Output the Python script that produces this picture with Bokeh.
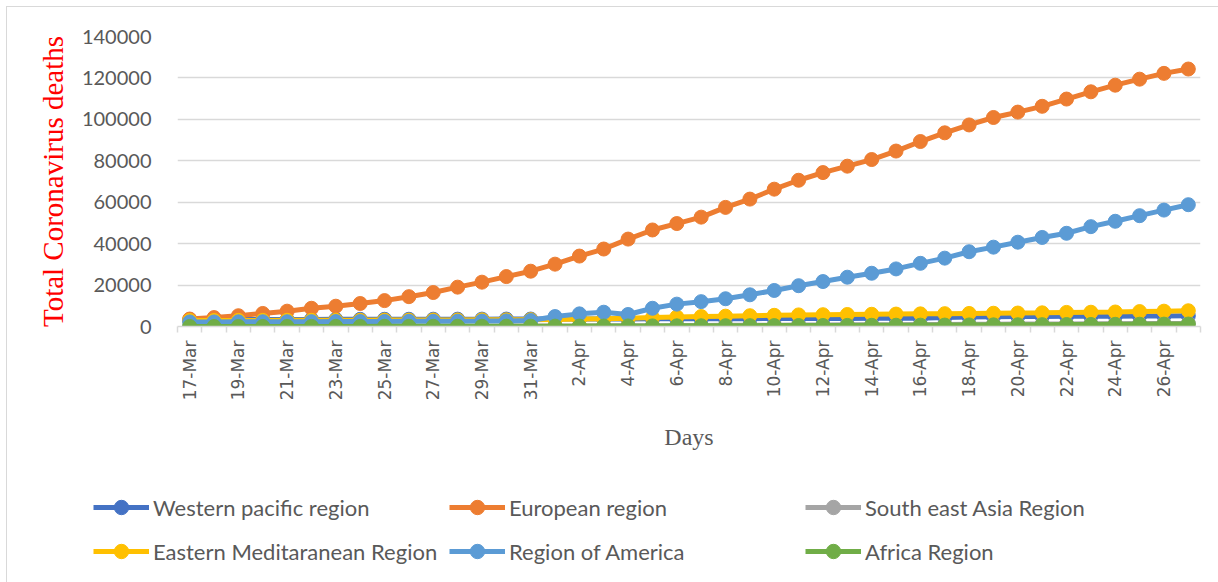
import math
from bokeh.plotting import figure
from bokeh.models import (Legend, LegendItem, FixedTicker, NumeralTickFormatter,
                          Range1d, SingleIntervalTicker)
from bokeh.embed import file_html
from bokeh.resources import INLINE

dates = ["17-Mar", "18-Mar", "19-Mar", "20-Mar", "21-Mar", "22-Mar", "23-Mar", "24-Mar",
         "25-Mar", "26-Mar", "27-Mar", "28-Mar", "29-Mar", "30-Mar", "31-Mar",
         "1-Apr", "2-Apr", "3-Apr", "4-Apr", "5-Apr", "6-Apr", "7-Apr", "8-Apr", "9-Apr",
         "10-Apr", "11-Apr", "12-Apr", "13-Apr", "14-Apr", "15-Apr", "16-Apr", "17-Apr",
         "18-Apr", "19-Apr", "20-Apr", "21-Apr", "22-Apr", "23-Apr", "24-Apr", "25-Apr",
         "26-Apr", "27-Apr"]

western_pacific = [3300, 3330, 3360, 3380, 3400, 3420, 3440, 3460, 3480, 3500, 3520, 3540,
                   3560, 3580, 3600, 3620, 3640, 3660, 3680, 3700, 3720, 3740, 3760, 3790,
                   3820, 3850, 3880, 3910, 3940, 3970, 4000, 4300, 4600, 4700, 4800, 4850,
                   4900, 4950, 5000, 5050, 5100, 5150]
european = [3600, 4300, 5200, 6300, 7400, 8800, 9800, 11100, 12500, 14400, 16400, 19000,
            21400, 24100, 26700, 30100, 34000, 37400, 42200, 46600, 49700, 52800, 57500,
            61500, 66300, 70600, 74300, 77400, 80600, 84700, 89300, 93500, 97300, 100900,
            103500, 106300, 109800, 113300, 116500, 119400, 122200, 124300]
south_east_asia = [20, 25, 30, 40, 50, 60, 70, 80, 100, 120, 140, 160, 180, 200, 230, 260,
                   290, 330, 370, 410, 450, 500, 550, 600, 650, 700, 750, 800, 850, 900,
                   950, 1000, 1050, 1100, 1150, 1200, 1250, 1300, 1350, 1400, 1450, 1500]
eastern_med = [2900, 2900, 2950, 2950, 3000, 3000, 3050, 3050, 3100, 3100, 3150, 3150, 3200,
               3200, 3300, 3400, 3600, 3800, 4000, 4300, 4600, 4800, 5000, 5200, 5400, 5600,
               5700, 5800, 5900, 6000, 6100, 6200, 6300, 6400, 6500, 6600, 6800, 6900, 7000,
               7200, 7400, 7600]
america = [2200, 2200, 2250, 2300, 2300, 2350, 2400, 2400, 2450, 2500, 2500, 2550, 2600, 2700,
           2900, 4800, 6100, 6900, 5800, 8800, 10800, 12000, 13400, 15300, 17400, 19700,
           21700, 23800, 25700, 27800, 30500, 33000, 36100, 38300, 40700, 43000, 45000,
           48200, 50800, 53500, 56200, 58800]
africa = [10, 15, 20, 25, 30, 40, 50, 60, 70, 80, 90, 100, 120, 140, 160, 180, 200, 230, 260,
          290, 320, 350, 380, 410, 440, 470, 500, 540, 580, 620, 660, 700, 750, 800, 850, 900,
          950, 1000, 1050, 1100, 1150, 1200]

series_names = ["Western pacific region", "European region", "South east Asia Region",
                "Eastern Meditaranean Region", "Region of America", "Africa Region"]
series_values = [western_pacific, european, south_east_asia, eastern_med, america, africa]
series_colors = ["#4472C4", "#ED7D31", "#A5A5A5", "#FFC000", "#5B9BD5", "#70AD47"]

x = list(range(len(dates)))

BORDER = "#D9D9D9"
p = figure(width=1218, height=470, output_backend="svg", toolbar_location=None, title=None,
           x_range=Range1d(-0.5, len(dates) - 0.5), y_range=Range1d(0, 140000),
           min_border_left=177, min_border_right=18, min_border_top=36,
           min_border_bottom=144)
p.outline_line_color = None
p.background_fill_color = "white"
p.border_fill_color = None
p.styles = {"background": (f"linear-gradient({BORDER},{BORDER}) 6px 6px / 1px 100% no-repeat, "
                           f"linear-gradient({BORDER},{BORDER}) 6px 6px / 100% 1px no-repeat, "
                           "white")}

for name, vals, col in zip(series_names, series_values, series_colors):
    p.line(x, vals, line_color=col, line_width=5)
    p.scatter(x, vals, size=14, fill_color=col, line_color=col, line_width=1)

# axes
p.yaxis.ticker = SingleIntervalTicker(interval=20000)
p.yaxis.formatter = NumeralTickFormatter(format="0")
p.yaxis.axis_line_color = None
p.yaxis.major_tick_line_color = None
p.yaxis.minor_tick_line_color = None
p.yaxis.major_tick_out = 0
p.yaxis.major_label_standoff = 22
p.yaxis.major_label_text_font = "Lato"
p.yaxis.major_label_text_font_size = "20px"
p.yaxis.major_label_text_color = "#595959"
p.yaxis.axis_label = "Total Coronavirus deaths"
p.yaxis.axis_label_text_font = "Liberation Serif"
p.yaxis.axis_label_text_font_style = "normal"
p.yaxis.axis_label_text_font_size = "29px"
p.yaxis.axis_label_text_color = "#FF0000"
p.yaxis.axis_label_standoff = 10

p.xaxis.ticker = FixedTicker(ticks=x[::2], minor_ticks=[i - 0.5 for i in range(len(dates) + 1)])
p.xaxis.major_label_overrides = {i: dates[i] for i in x[::2]}
p.xaxis.major_label_orientation = math.pi / 2
p.xaxis.major_tick_in = 0
p.xaxis.major_tick_out = 0
p.xaxis.minor_tick_in = 0
p.xaxis.minor_tick_out = 6
p.xaxis.minor_tick_line_color = "#D9D9D9"
p.xaxis.minor_tick_line_width = 1.5
p.xaxis.axis_line_color = "#D9D9D9"
p.xaxis.axis_line_width = 1.5
p.xaxis.major_label_standoff = 8
p.xaxis.major_label_text_font = "DejaVu Sans"
p.xaxis.major_label_text_font_size = "17px"
p.xaxis.major_label_text_color = "#595959"
p.xaxis.axis_label = "Days"
p.xaxis.axis_label_text_font = "Liberation Serif"
p.xaxis.axis_label_text_font_style = "normal"
p.xaxis.axis_label_text_font_size = "24px"
p.xaxis.axis_label_text_color = "#595959"
p.xaxis.axis_label_standoff = 21

p.xgrid.visible = False
p.ygrid.grid_line_color = "#D9D9D9"
p.ygrid.grid_line_width = 1.5

# legend strip below the chart (separate root, same series styles)
lg = figure(width=1218, height=112, output_backend="svg", toolbar_location=None, title=None,
            x_range=Range1d(-0.5, len(dates) - 0.5), y_range=Range1d(0, 140000),
            min_border=0, x_axis_type=None, y_axis_type=None)
lg.outline_line_color = None
lg.background_fill_color = None
lg.border_fill_color = None
lg.styles = {"background": (f"linear-gradient({BORDER},{BORDER}) 6px 0px / 1px 100% no-repeat, "
                            "white")}
lg.xgrid.visible = False
lg.ygrid.visible = False
items = []
for name, vals, col in zip(series_names, series_values, series_colors):
    r1 = lg.line(x, vals, line_color=col, line_width=5, visible=False)
    r2 = lg.scatter(x, vals, size=14, fill_color=col, line_color=col, line_width=1,
                    visible=False)
    items.append(LegendItem(label=name, renderers=[r1, r2]))

legend = Legend(items=items, location=(93, 13), orientation="horizontal", ncols=3,
                glyph_width=56, glyph_height=36, label_standoff=4, label_width=288,
                spacing=8, padding=0, margin=0, border_line_color=None,
                background_fill_alpha=0, inactive_fill_alpha=0, label_text_font="Lato",
                label_text_font_size="22px", label_text_color="#595959")
lg.add_layout(legend, "center")

open("out.html", "w").write(file_html([p, lg], INLINE))
